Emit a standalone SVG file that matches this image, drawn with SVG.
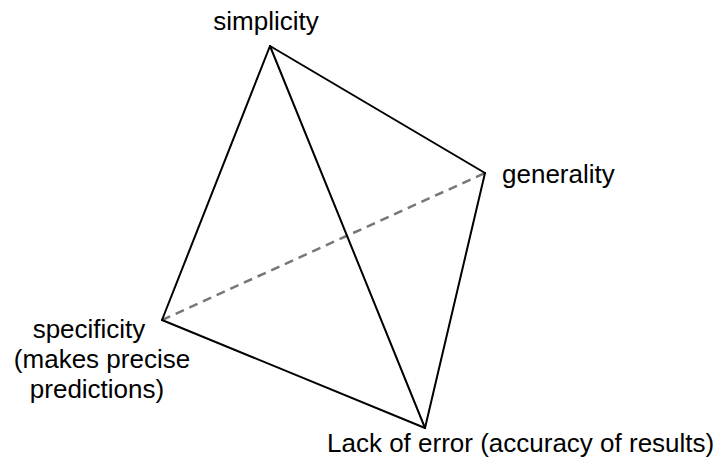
<svg xmlns="http://www.w3.org/2000/svg" width="726" height="459" viewBox="0 0 726 459">
<style>
.e{stroke:#000;stroke-width:2;fill:none;stroke-linecap:round}
.d{stroke:#777;stroke-width:2.5;fill:none;stroke-dasharray:9 6}
text{font-family:"Liberation Sans",Arial,sans-serif;font-size:26px;fill:#000}
</style>
<rect width="726" height="459" fill="#fff"/>
<g id="connectors">
<line class="d" x1="162" y1="320" x2="485" y2="173"/>
<line class="e" x1="270" y1="46" x2="162" y2="320"/>
<line class="e" x1="270" y1="46" x2="485" y2="173"/>
<line class="e" x1="270" y1="46" x2="425" y2="428"/>
<line class="e" x1="162" y1="320" x2="425" y2="428"/>
<line class="e" x1="485" y1="173" x2="425" y2="428"/>
</g>
<g id="simplicity"><text x="266" y="30" text-anchor="middle">simplicity</text></g>
<g id="generality"><text x="502" y="183">generality</text></g>
<g id="specificity"><text x="89" y="338" text-anchor="middle">specificity</text><text x="102" y="368" text-anchor="middle">(makes precise</text><text x="97" y="398" text-anchor="middle">predictions)</text></g>
<g id="lack"><text x="327" y="452">Lack of error (accuracy of results)</text></g>
</svg>
